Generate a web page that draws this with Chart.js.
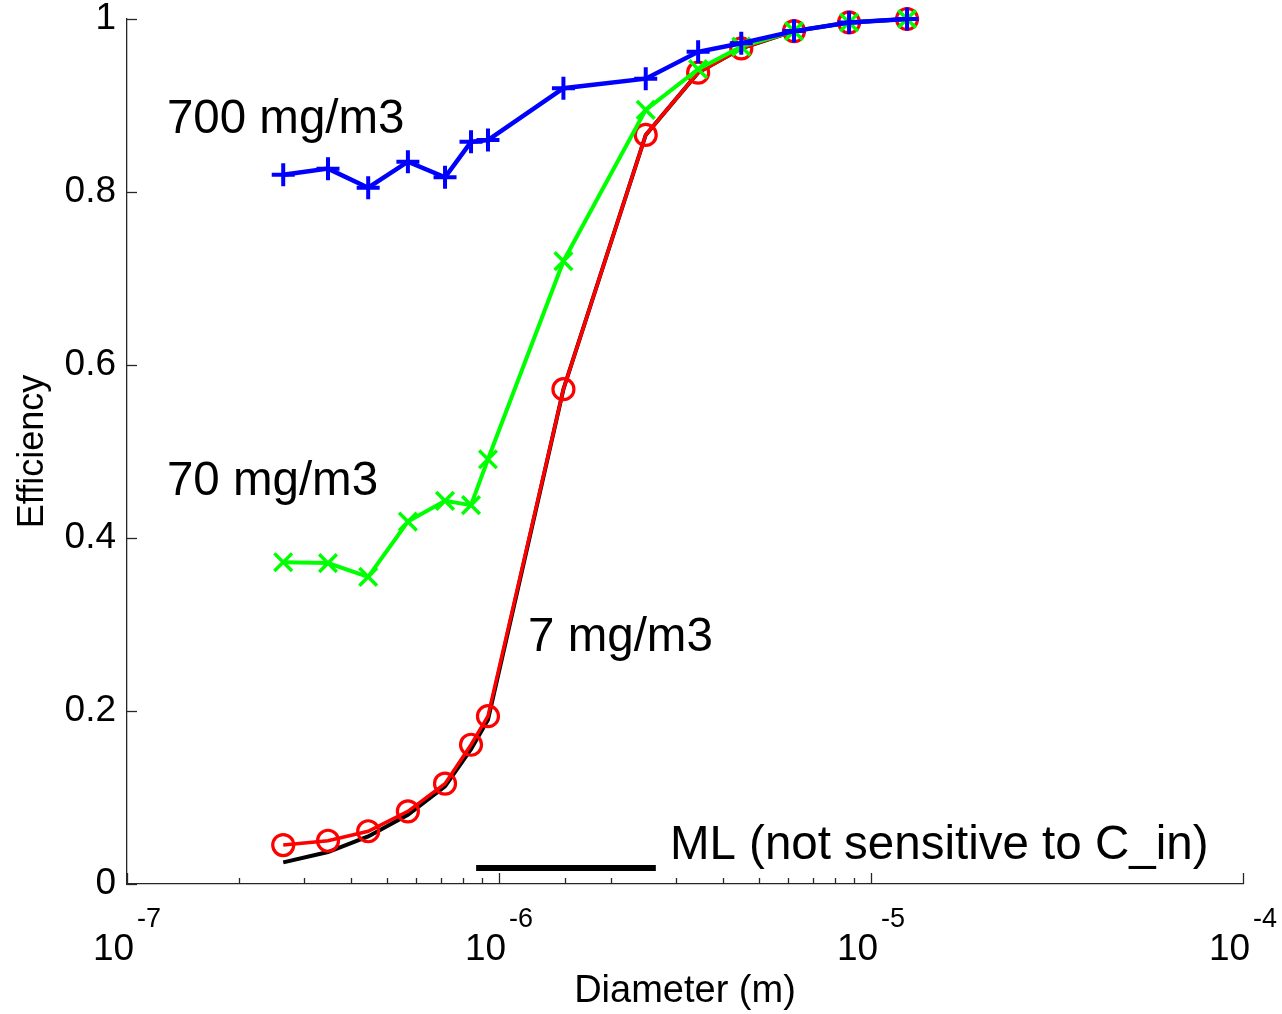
<!DOCTYPE html>
<html>
<head>
<meta charset="utf-8">
<title>Efficiency x Diameter</title>
<script src="https://cdn.jsdelivr.net/npm/chart.js@4.4.1/dist/chart.umd.min.js"></script>
<style>
  html, body { margin: 0; padding: 0; background: #fff; }
  #wrap { width: 1282px; height: 1014px; }
</style>
</head>
<body>
<div id="wrap"><canvas id="grafico" width="1282" height="1014"></canvas></div>
<script>
// diametros (m) - iguais para todas as curvas
const diametros = [2.63e-7, 3.47e-7, 4.45e-7, 5.69e-7, 7.16e-7, 8.41e-7, 9.34e-7,
                   1.49e-6, 2.48e-6, 3.43e-6, 4.48e-6, 6.21e-6, 8.73e-6, 1.25e-5];

// eficiencia por concentracao de entrada
const ef700 = [0.820, 0.827, 0.805, 0.835, 0.817, 0.858, 0.860, 0.920, 0.931, 0.962, 0.972, 0.986, 0.996, 1.000];
const ef70  = [0.372, 0.371, 0.355, 0.419, 0.443, 0.438, 0.491, 0.720, 0.895, 0.942, 0.968, 0.986, 0.996, 1.000];
const ef7   = [0.045, 0.050, 0.061, 0.084, 0.116, 0.161, 0.194, 0.572, 0.866, 0.938, 0.966, 0.986, 0.996, 1.000];
const efML  = [0.025, 0.037, 0.055, 0.080, 0.113, 0.156, 0.190, 0.572, 0.866, 0.938, 0.966, 0.986, 0.996, 1.000];

// eixos
const ticksY = [0, 0.2, 0.4, 0.6, 0.8, 1];
const expoentesX = [-7, -6, -5, -4];

const FONTE = '"Liberation Sans", Arial, Helvetica, sans-serif';

function pontos(valores) {
  return diametros.map((d, i) => ({ x: d, y: valores[i] }));
}

// textos dentro do grafico (posicao em coordenadas de dados)
const rotulos = [
  { texto: '700 mg/m3', x: 1.28e-7, y: 0.868 },
  { texto: '70 mg/m3', x: 1.28e-7, y: 0.4497 },
  { texto: '7 mg/m3', x: 1.197e-6, y: 0.2694 },
  { texto: 'ML (not sensitive to C_in)', x: 2.88e-6, y: 0.0289 }
];

// eixos no estilo matlab: ticks para dentro, 10 com expoente
const eixosMatlab = {
  id: 'eixosMatlab',
  afterDraw(chart) {
    const { ctx, chartArea, scales } = chart;
    const sx = scales.x, sy = scales.y;
    ctx.save();
    ctx.strokeStyle = '#262626';
    ctx.lineWidth = 1.3;

    ticksY.forEach(v => {
      const py = Math.round(sy.getPixelForValue(v)) + 0.5;
      ctx.beginPath();
      ctx.moveTo(chartArea.left, py);
      ctx.lineTo(chartArea.left + 10, py);
      ctx.stroke();
    });

    sx.ticks.forEach(t => {
      const v = t.value;
      const e = Math.floor(Math.log10(v) + 1e-9);
      const mant = v / Math.pow(10, e);
      const major = Math.abs(mant - 1) < 1e-6;
      if (!major && v > 1.01e-5) return; // no reference nao aparecem
      const px = Math.round(sx.getPixelForValue(v)) + 0.5;
      ctx.beginPath();
      ctx.moveTo(px, chartArea.bottom);
      ctx.lineTo(px, chartArea.bottom - (major ? 11 : 6));
      ctx.stroke();
    });

    // rotulos do eixo x: 10^n
    ctx.fillStyle = '#000';
    ctx.textBaseline = 'alphabetic';
    ctx.textAlign = 'left';
    expoentesX.forEach(e => {
      const px = sx.getPixelForValue(Math.pow(10, e));
      ctx.font = '37px ' + FONTE;
      const wBase = ctx.measureText('10').width;
      ctx.font = '27px ' + FONTE;
      const sup = String(e);
      const wSup = ctx.measureText(sup).width;
      const inicio = px - (wBase + 3 + wSup) / 2;
      ctx.font = '37px ' + FONTE;
      ctx.fillText('10', inicio, 960);
      ctx.font = '27px ' + FONTE;
      ctx.fillText(sup, inicio + wBase + 3, 927);
    });
    ctx.restore();
  },
  afterDatasetsDraw(chart) {
    const { ctx, scales } = chart;
    const sx = scales.x, sy = scales.y;
    ctx.save();
    // traco da legenda do ML
    ctx.strokeStyle = '#000';
    ctx.lineWidth = 6;
    ctx.beginPath();
    ctx.moveTo(sx.getPixelForValue(8.68e-7), sy.getPixelForValue(0.0185));
    ctx.lineTo(sx.getPixelForValue(2.64e-6), sy.getPixelForValue(0.0185));
    ctx.stroke();

    ctx.fillStyle = '#000';
    ctx.font = '47.5px ' + FONTE;
    ctx.textAlign = 'left';
    ctx.textBaseline = 'alphabetic';
    rotulos.forEach(r => {
      ctx.fillText(r.texto, sx.getPixelForValue(r.x), sy.getPixelForValue(r.y));
    });
    ctx.restore();
  }
};

new Chart(document.getElementById('grafico'), {
  type: 'line',
  data: {
    datasets: [
      {
        label: '700 mg/m3',
        data: pontos(ef700),
        borderColor: '#0000ff',
        borderWidth: 4.5,
        pointStyle: 'cross',
        pointRadius: 11.5,
        pointBorderWidth: 4,
        pointBorderColor: '#0000ff',
        clip: false,
        order: 1
      },
      {
        label: '70 mg/m3',
        data: pontos(ef70),
        borderColor: '#00ff00',
        borderWidth: 4,
        pointStyle: 'crossRot',
        pointRadius: 12.5,
        pointBorderWidth: 3.5,
        pointBorderColor: '#00ff00',
        clip: false,
        order: 2
      },
      {
        label: '7 mg/m3',
        data: pontos(ef7),
        borderColor: '#ff0000',
        borderWidth: 3.5,
        pointStyle: 'circle',
        pointRadius: 10.5,
        pointBorderWidth: 3.2,
        pointBorderColor: '#ff0000',
        pointBackgroundColor: 'rgba(0,0,0,0)',
        clip: false,
        order: 3
      },
      {
        label: 'ML',
        data: pontos(efML),
        borderColor: '#000000',
        borderWidth: 4,
        pointRadius: 0,
        clip: false,
        order: 4
      }
    ]
  },
  options: {
    responsive: false,
    animation: false,
    events: [],
    layout: { padding: { top: 19, right: 39, left: 0, bottom: 0 } },
    elements: { line: { tension: 0, fill: false } },
    plugins: {
      legend: { display: false },
      tooltip: { enabled: false }
    },
    scales: {
      x: {
        type: 'logarithmic',
        min: 1e-7,
        max: 1e-4,
        grid: { display: false, drawTicks: false },
        border: { display: true, color: '#262626', width: 1.3 },
        ticks: { display: false },
        title: {
          display: true,
          text: 'Diameter (m)',
          color: '#000',
          font: { family: FONTE, size: 38 },
          padding: { top: 0, bottom: 0 }
        },
        afterFit: scale => {
          scale.height = 130;
          scale.paddingLeft = 0;
          scale.paddingRight = 0;
        }
      },
      y: {
        type: 'linear',
        min: 0,
        max: 1,
        grid: { display: false, drawTicks: false },
        border: { display: true, color: '#262626', width: 1.3 },
        afterBuildTicks: scale => { scale.ticks = ticksY.map(v => ({ value: v })); },
        ticks: {
          color: '#000',
          padding: 11,
          font: { family: FONTE, size: 37 },
          callback: v => String(v)
        },
        title: {
          display: true,
          text: 'Efficiency',
          color: '#000',
          font: { family: FONTE, size: 36 },
          padding: { top: 11, bottom: 0 }
        },
        afterFit: scale => {
          scale.width = 127;
          scale.paddingTop = 0;
          scale.paddingBottom = 0;
        }
      }
    }
  },
  plugins: [eixosMatlab]
});
</script>
</body>
</html>
